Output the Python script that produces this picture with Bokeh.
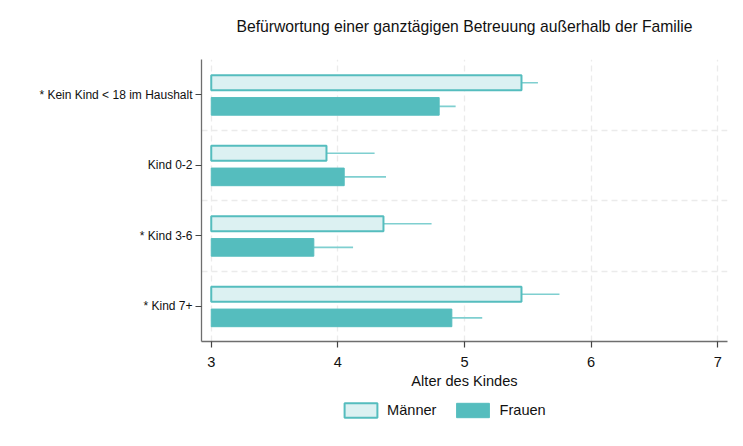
from bokeh.plotting import figure
from bokeh.models import (ColumnDataSource, FactorRange, Range1d, FixedTicker,
                          Legend, LegendItem, Label)
from bokeh.layouts import column
from bokeh.core.properties import value
from bokeh.transform import dodge
from bokeh.embed import file_html
from bokeh.resources import INLINE

title_text = "Befürwortung einer ganztägigen Betreuung außerhalb der Familie"
categories = ["* Kein Kind < 18 im Haushalt", "Kind 0-2", "* Kind 3-6", "* Kind 7+"]
maenner = [5.45, 3.91, 4.36, 5.45]
maenner_hi = [5.58, 4.29, 4.74, 5.75]
frauen = [4.80, 4.05, 3.81, 4.90]
frauen_hi = [4.93, 4.38, 4.12, 5.14]
x_ticks = [3, 4, 5, 6, 7]
series = ["Männer", "Frauen"]
base = 3

FONT = "Liberation Sans"
TEAL = "#55bdbe"
LIGHT = "#dcf1f2"
ERR = "#7fcfd0"
GRID = "#ebebeb"
TXT = "#111111"

src = ColumnDataSource(dict(cat=categories, m=maenner, mh=maenner_hi,
                            f=frauen, fh=frauen_hi))

# title strip
tt = figure(width=735, height=40, output_backend="svg", toolbar_location=None,
            x_range=Range1d(0, 1), y_range=Range1d(0, 1), title=None,
            x_axis_type=None, y_axis_type=None, min_border=0)
tt.outline_line_color = None
tt.grid.visible = False
tt.add_layout(Label(x=263, y=14, x_units="screen", y_units="screen",
                    text=title_text, text_align="center", text_baseline="middle",
                    text_font=FONT, text_font_size="15.7px", text_color=TXT))

p = figure(width=735, height=360, output_backend="svg", toolbar_location=None,
           y_range=FactorRange(factors=categories[::-1]),
           x_range=Range1d(2.923, 7.077), title=None,
           min_border_left=201, min_border_right=8, min_border_top=19,
           min_border_bottom=59)
p.outline_line_color = None
p.background_fill_color = "white"
p.border_fill_color = "white"

ym = dodge("cat", 0.17, range=p.y_range)
yf = dodge("cat", -0.165, range=p.y_range)

p.segment(x0="m", x1="mh", y0=ym, y1=ym, source=src, line_color=ERR, line_width=1.6)
p.segment(x0="f", x1="fh", y0=yf, y1=yf, source=src, line_color=ERR, line_width=1.6)

p.hbar(y=ym, left=base, right="m", height=0.21, source=src,
       fill_color=LIGHT, line_color=TEAL, line_width=2)
p.hbar(y=yf, left=base, right="f", height=0.25, source=src,
       fill_color=TEAL, line_color=TEAL, line_width=1)

# grid
p.xgrid.ticker = FixedTicker(ticks=x_ticks)
p.xgrid.grid_line_color = GRID
p.xgrid.grid_line_dash = "6 4"
p.xgrid.grid_line_width = 1.3
p.ygrid.ticker = FixedTicker(ticks=[1, 2, 3])
p.ygrid.grid_line_color = GRID
p.ygrid.grid_line_dash = "6 4"
p.ygrid.grid_line_width = 1.3

# axes
p.xaxis.ticker = FixedTicker(ticks=x_ticks)
p.xaxis.axis_label = "Alter des Kindes"
for ax in (p.xaxis[0], p.yaxis[0]):
    ax.axis_line_color = "#6e6e6e"
    ax.axis_line_width = 1.3
    ax.major_tick_line_color = "#444444"
    ax.major_tick_line_width = 1.2
    ax.major_tick_out = 6
    ax.major_tick_in = 0
    ax.minor_tick_line_color = None
    ax.major_label_text_font = FONT
    ax.major_label_text_color = TXT
    ax.axis_label_text_font = FONT
    ax.axis_label_text_font_style = "normal"
    ax.axis_label_text_color = TXT

p.xaxis.major_label_text_font_size = "14.6px"
p.xaxis.axis_label_text_font_size = "14.6px"
p.xaxis.major_label_standoff = 9
p.xaxis.axis_label_standoff = 3
p.yaxis.major_label_text_font_size = "12px"
p.yaxis.major_label_standoff = 3

# legend strip (proxy bars: category strings on a numeric axis are never drawn)
lg = figure(width=735, height=38, output_backend="svg", toolbar_location=None,
            x_range=Range1d(0, 1), y_range=Range1d(0, 1), title=None,
            x_axis_type=None, y_axis_type=None, min_border=0)
lg.outline_line_color = None
lg.grid.visible = False
lm = lg.hbar(y="cat", left="m", right="mh", height=0.1, source=src,
             fill_color=LIGHT, line_color=TEAL, line_width=2)
lf = lg.hbar(y="cat", left="f", right="fh", height=0.1, source=src,
             fill_color=TEAL, line_color=TEAL, line_width=1)
legend = Legend(items=[LegendItem(label=value(series[0]), renderers=[lm]),
                       LegendItem(label=value(series[1]), renderers=[lf])],
                orientation="horizontal", location=(139, 19),
                glyph_width=41, glyph_height=18, label_height=18,
                label_standoff=6, spacing=16, padding=0, margin=0,
                border_line_color=None, background_fill_alpha=0,
                label_text_font=FONT, label_text_font_size="14.6px",
                label_text_color=TXT)
lg.add_layout(legend, "center")

open("out.html", "w").write(file_html(column(tt, p, lg, spacing=0), INLINE))
